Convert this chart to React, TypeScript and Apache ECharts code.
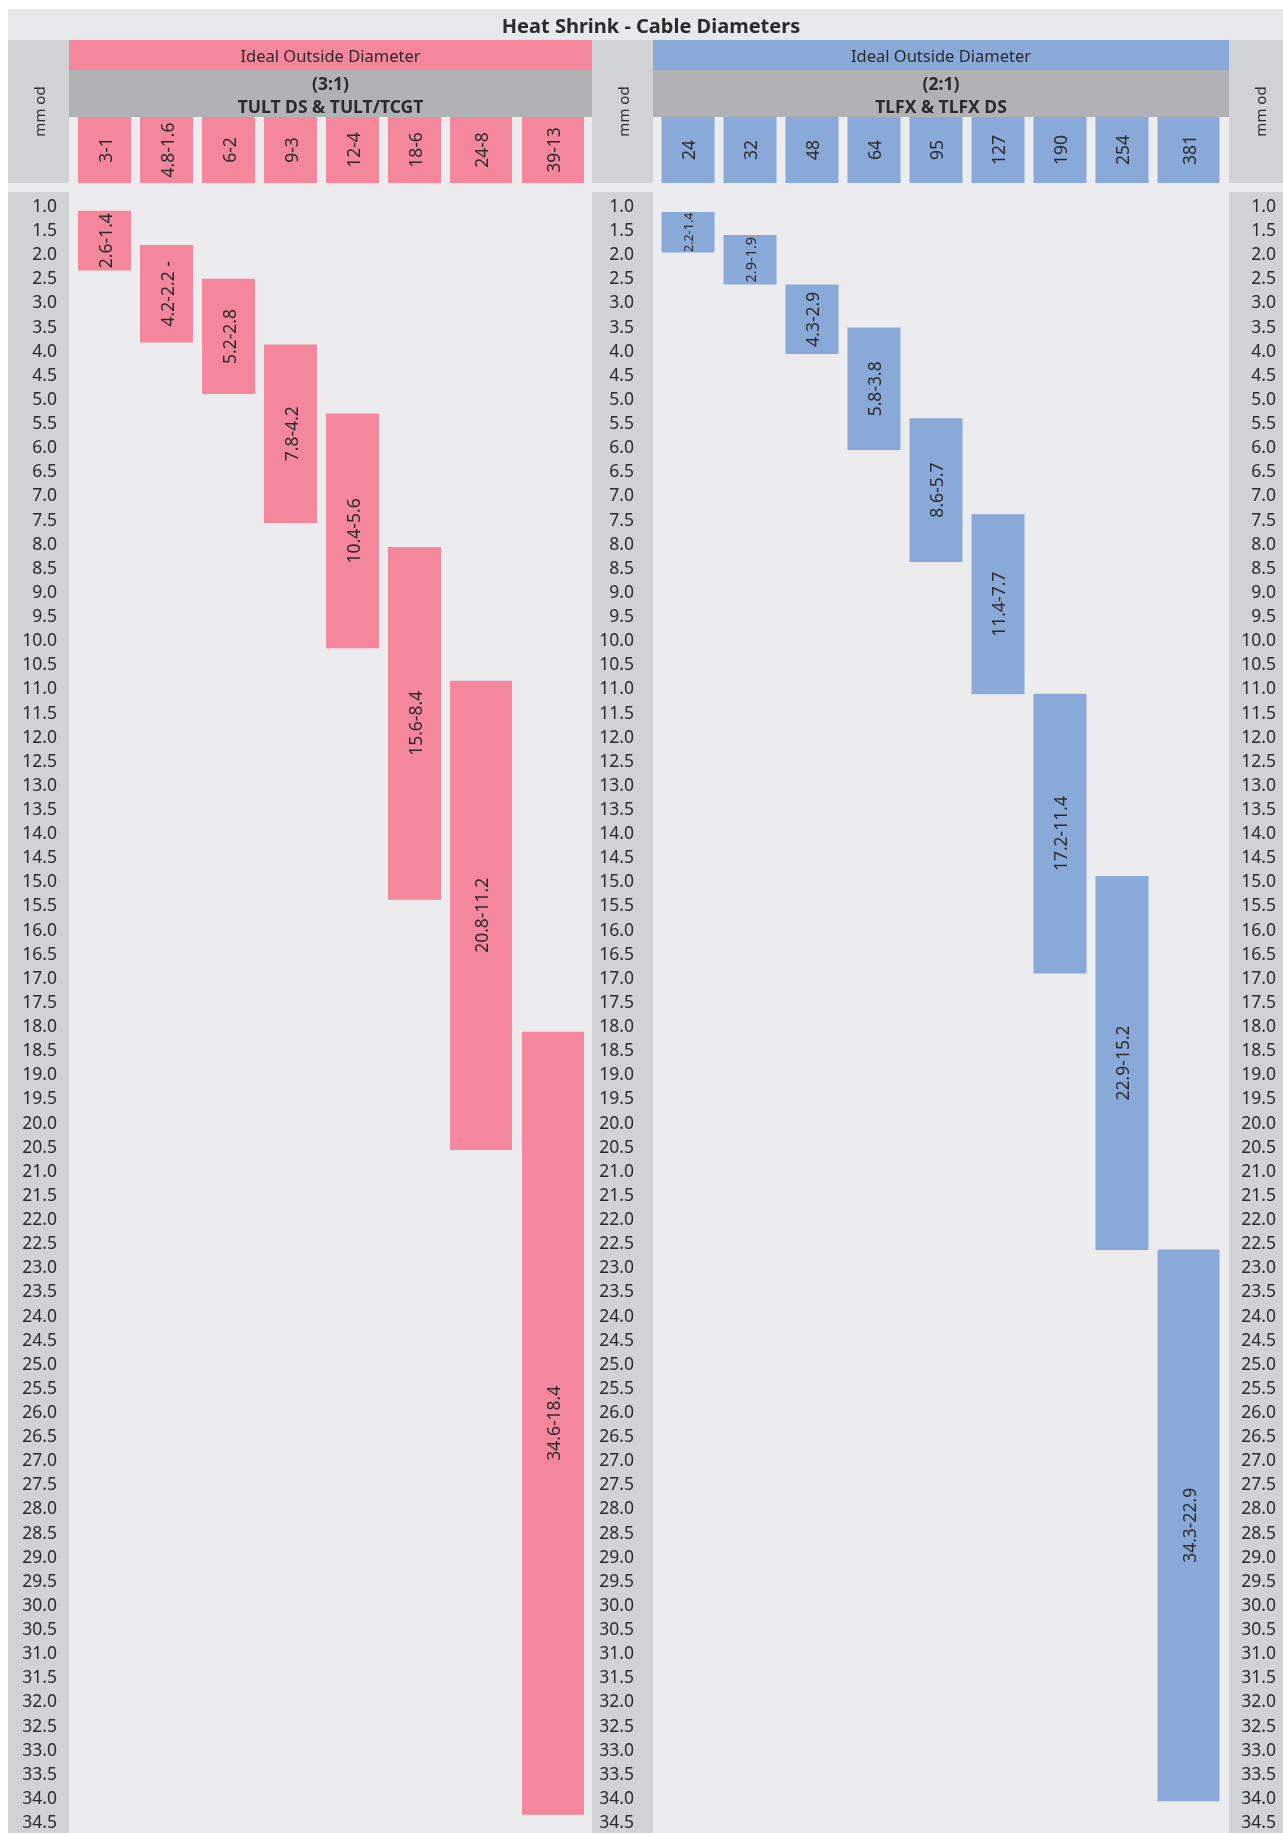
import React, { useEffect, useRef } from 'react';
import * as echarts from 'echarts';

// ---------- texts ----------
const TITLE = 'Heat Shrink - Cable Diameters';
const BAND_TITLE = 'Ideal Outside Diameter';
const PINK_RATIO = '(3:1)';
const PINK_PRODUCT = 'TULT DS & TULT/TCGT';
const BLUE_RATIO = '(2:1)';
const BLUE_PRODUCT = 'TLFX & TLFX DS';
const AXIS_NAME = 'mm od';

// ---------- data (3:1 group) ----------
const PINK_SIZES = ['3-1', '4.8-1.6', '6-2', '9-3', '12-4', '18-6', '24-8', '39-13'];
const PINK_LABELS = ['2.6-1.4', '4.2-2.2 -', '5.2-2.8', '7.8-4.2', '10.4-5.6', '15.6-8.4', '20.8-11.2', '34.6-18.4'];
const PINK_TOP = [1.12, 1.83, 2.53, 3.89, 5.32, 8.09, 10.86, 18.14];
const PINK_BOTTOM = [2.36, 3.85, 4.92, 7.59, 10.19, 15.4, 20.59, 34.37];

// ---------- data (2:1 group) ----------
const BLUE_SIZES = ['24', '32', '48', '64', '95', '127', '190', '254', '381'];
const BLUE_LABELS = ['2.2-1.4', '2.9-1.9', '4.3-2.9', '5.8-3.8', '8.6-5.7', '11.4-7.7', '17.2-11.4', '22.9-15.2', '34.3-22.9'];
const BLUE_TOP = [1.145, 1.62, 2.647, 3.54, 5.42, 7.41, 11.13, 14.91, 22.65];
const BLUE_BOTTOM = [1.986, 2.647, 4.09, 6.08, 8.4, 11.14, 16.93, 22.66, 34.09];

// ---------- axis ----------
const AXIS_MIN = 1.0;
const AXIS_MAX = 34.5;
const AXIS_STEP = 0.5;

// ---------- styles / layout ----------
const FONT = 'Noto Sans';
const TEXT = '#2b2b2b';
const PINK = '#f4879b';
const BLUE = '#89a9d8';
const GREY_BAND = '#b1b2b5';
const LABEL_COL = '#d1d2d4';
const DATA_BG = '#ececee';
const TITLE_BG = '#e7e8ea';

const W = 1283;
const H = 1833;
const BG_X = 8;
const BG_Y = 9;
const HEAD_TOP = 40;
const BAND_H = 30;
const GREY_H = 47;
const CELL_TOP = 117;
const CELL_H = 66;
const DATA_TOP = 192;
const COL_W = 61;
const LEFT_COL_X = 8;
const MID_COL_X = 592;
const RIGHT_COL_X = 1229;
const PINK_GRID = { left: 69, width: 523 };
const BLUE_GRID = { left: 653, width: 576 };
const GRID_TOP = 205;
const ROW_PX = 24.12; // per 0.5 step
const GRID_H = ((AXIS_MAX - AXIS_MIN) / AXIS_STEP) * ROW_PX;

// column placement inside each grid (px from grid left), widths
const PINK_COL_X = [9, 71, 133, 195, 257, 319, 381, 453];
const PINK_COL_W = [53, 53, 53, 53, 53, 53, 62, 62];
const BLUE_COL_X = [8.5, 70.5, 132.5, 194.5, 256.5, 318.5, 380.5, 442.5, 504.5];
const BLUE_COL_W = [53, 53, 53, 53, 53, 53, 53, 53, 62];
const BLUE_FONT_OVERRIDE: Record<number, number> = { 0: 12.5, 1: 14.5 };
const NUM_SIZE = 17.5;

function barSeries(gridIdx: number, labels: string[], top: number[], bottom: number[], colX: number[], colW: number[], color: string, fontOverride: Record<number, number>) {
  return {
    type: 'custom',
    xAxisIndex: gridIdx,
    yAxisIndex: gridIdx === 0 ? 0 : 1,
    clip: false,
    z: 5,
    data: top.map((t, i) => [i, t, bottom[i]]),
    encode: { x: 0, y: [1, 2] },
    renderItem: (params: any, api: any) => {
      const i = api.value(0);
      const x0 = colX[i];
      const x1 = x0 + colW[i];
      const p0 = api.coord([x0, api.value(1)]);
      const p1 = api.coord([x1, api.value(2)]);
      return {
        type: 'group',
        children: [
          {
            type: 'rect',
            shape: { x: p0[0], y: p0[1], width: p1[0] - p0[0], height: p1[1] - p0[1] },
            style: { fill: color },
          },
          {
            type: 'text',
            x: (p0[0] + p1[0]) / 2,
            y: (p0[1] + p1[1]) / 2,
            rotation: Math.PI / 2,
            style: {
              text: labels[i],
              fill: TEXT,
              fontSize: fontOverride[i] ?? NUM_SIZE,
              fontFamily: FONT,
              align: 'center',
              verticalAlign: 'middle',
            },
          },
        ],
      };
    },
  };
}

function headerSeries(gridIdx: number, sizes: string[], colX: number[], colW: number[], color: string) {
  return {
    type: 'custom',
    xAxisIndex: gridIdx,
    yAxisIndex: gridIdx === 0 ? 0 : 1,
    clip: false,
    z: 5,
    data: sizes.map((_, i) => [i, AXIS_MIN]),
    renderItem: (params: any, api: any) => {
      const i = api.value(0);
      const a = api.coord([colX[i], AXIS_MIN]);
      const b = api.coord([colX[i] + colW[i], AXIS_MIN]);
      return {
        type: 'group',
        children: [
          {
            type: 'rect',
            shape: { x: a[0], y: CELL_TOP, width: b[0] - a[0], height: CELL_H },
            style: { fill: color },
          },
          {
            type: 'text',
            x: (a[0] + b[0]) / 2,
            y: CELL_TOP + CELL_H / 2,
            rotation: Math.PI / 2,
            style: {
              text: sizes[i],
              fill: TEXT,
              fontSize: NUM_SIZE,
              fontFamily: FONT,
              align: 'center',
              verticalAlign: 'middle',
            },
          },
        ],
      };
    },
  };
}

function yAxis(gridIndex: number, position: 'left' | 'right', margin: number) {
  return {
    type: 'value',
    gridIndex,
    position,
    inverse: true,
    min: AXIS_MIN,
    max: AXIS_MAX,
    interval: AXIS_STEP,
    z: 6,
    axisLine: { show: false },
    axisTick: { show: false },
    splitLine: { show: false },
    axisLabel: {
      margin,
      align: 'right',
      color: TEXT,
      fontSize: NUM_SIZE,
      fontFamily: FONT,
      formatter: (v: number) => v.toFixed(1),
    },
  };
}

function rect(x: number, y: number, w: number, h: number, fill: string) {
  return { type: 'rect', z: -10, shape: { x, y, width: w, height: h }, style: { fill } };
}

function text(x: number, y: number, t: string, size: number, weight: string, rotate = false) {
  return {
    type: 'text',
    z: 20,
    x,
    y,
    rotation: rotate ? Math.PI / 2 : 0,
    style: {
      text: t,
      fill: TEXT,
      fontSize: size,
      fontWeight: weight,
      fontFamily: FONT,
      align: 'center',
      verticalAlign: 'middle',
    },
  };
}

export default function App() {
  const ref = useRef<HTMLDivElement>(null);
  useEffect(() => {
    if (!ref.current) return;
    const chart = echarts.init(ref.current, null, { renderer: 'svg' });
    const headH = CELL_TOP + CELL_H - HEAD_TOP;
    const dataH = H - DATA_TOP;
    const graphics: any[] = [
      rect(BG_X, BG_Y, W - BG_X, H - BG_Y, DATA_BG),
      rect(BG_X, BG_Y, W - BG_X, HEAD_TOP - BG_Y, TITLE_BG),
      // label columns
      rect(LEFT_COL_X, HEAD_TOP, COL_W, headH, LABEL_COL),
      rect(LEFT_COL_X, DATA_TOP, COL_W, dataH, LABEL_COL),
      rect(MID_COL_X, HEAD_TOP, COL_W, headH, LABEL_COL),
      rect(MID_COL_X, DATA_TOP, COL_W, dataH, LABEL_COL),
      rect(RIGHT_COL_X, HEAD_TOP, COL_W, headH, LABEL_COL),
      rect(RIGHT_COL_X, DATA_TOP, COL_W, dataH, LABEL_COL),
      // bands
      rect(PINK_GRID.left, HEAD_TOP, PINK_GRID.width, BAND_H, PINK),
      rect(BLUE_GRID.left, HEAD_TOP, BLUE_GRID.width, BAND_H, BLUE),
      rect(PINK_GRID.left, HEAD_TOP + BAND_H, PINK_GRID.width, GREY_H, GREY_BAND),
      rect(BLUE_GRID.left, HEAD_TOP + BAND_H, BLUE_GRID.width, GREY_H, GREY_BAND),
      // texts
      text(651, 25, TITLE, 20, 'bold'),
      text(PINK_GRID.left + PINK_GRID.width / 2, HEAD_TOP + BAND_H / 2, BAND_TITLE, 16.5, 'normal'),
      text(BLUE_GRID.left + BLUE_GRID.width / 2, HEAD_TOP + BAND_H / 2, BAND_TITLE, 16.5, 'normal'),
      text(PINK_GRID.left + PINK_GRID.width / 2, 83, PINK_RATIO, 17.5, 'bold'),
      text(PINK_GRID.left + PINK_GRID.width / 2, 106, PINK_PRODUCT, 17.5, 'bold'),
      text(BLUE_GRID.left + BLUE_GRID.width / 2, 83, BLUE_RATIO, 17.5, 'bold'),
      text(BLUE_GRID.left + BLUE_GRID.width / 2, 106, BLUE_PRODUCT, 17.5, 'bold'),
      text(LEFT_COL_X + COL_W / 2, HEAD_TOP + headH / 2, AXIS_NAME, 15, 'normal', true),
      text(MID_COL_X + COL_W / 2, HEAD_TOP + headH / 2, AXIS_NAME, 15, 'normal', true),
      text(RIGHT_COL_X + COL_W / 2, HEAD_TOP + headH / 2, AXIS_NAME, 15, 'normal', true),
    ];

    chart.setOption({
      animation: false,
      grid: [
        { left: PINK_GRID.left, width: PINK_GRID.width, top: GRID_TOP, height: GRID_H },
        { left: BLUE_GRID.left, width: BLUE_GRID.width, top: GRID_TOP, height: GRID_H },
      ],
      xAxis: [
        { type: 'value', gridIndex: 0, min: 0, max: PINK_GRID.width, show: false },
        { type: 'value', gridIndex: 1, min: 0, max: BLUE_GRID.width, show: false },
      ],
      yAxis: [yAxis(0, 'left', 12), yAxis(1, 'left', 19), yAxis(1, 'right', 47)],
      graphic: { elements: graphics },
      series: [
        headerSeries(0, PINK_SIZES, PINK_COL_X, PINK_COL_W, PINK),
        headerSeries(1, BLUE_SIZES, BLUE_COL_X, BLUE_COL_W, BLUE),
        barSeries(0, PINK_LABELS, PINK_TOP, PINK_BOTTOM, PINK_COL_X, PINK_COL_W, PINK, {}),
        barSeries(1, BLUE_LABELS, BLUE_TOP, BLUE_BOTTOM, BLUE_COL_X, BLUE_COL_W, BLUE, BLUE_FONT_OVERRIDE),
      ],
    });
    return () => chart.dispose();
  }, []);
  return <div ref={ref} style={{ position: 'fixed', left: 0, top: 0, width: W, height: H }} />;
}
